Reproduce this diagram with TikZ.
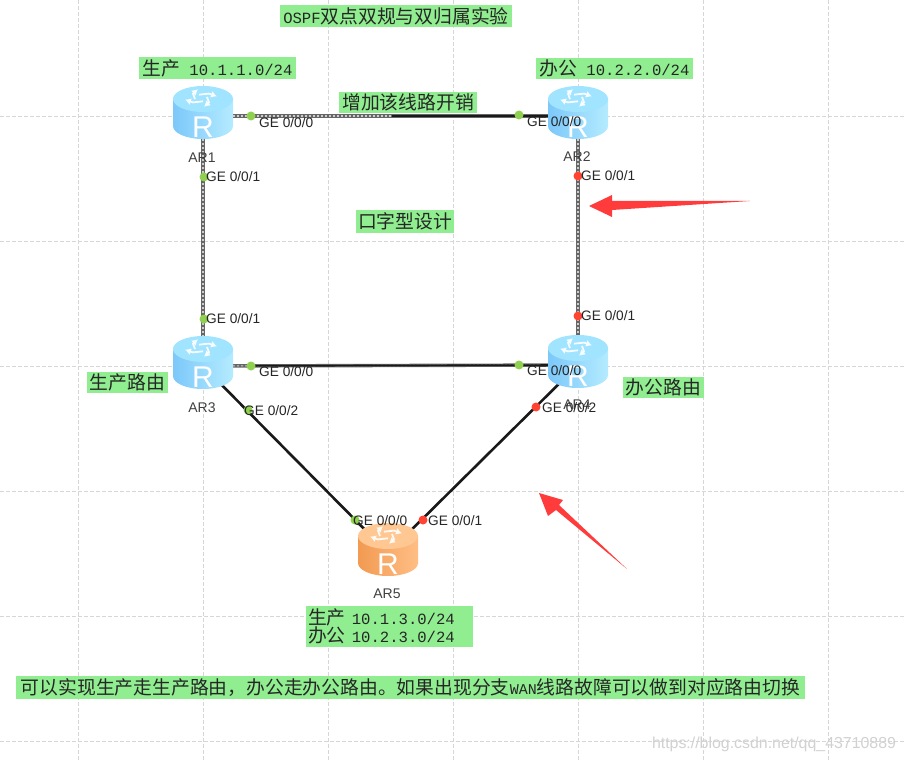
\documentclass[tikz,border=0pt]{standalone}
\usepackage{fontspec}
\setmainfont{Noto Sans CJK SC}
\newfontfamily\monotxt{Liberation Mono}
\newfontfamily\labeltxt{Liberation Sans}
\newcommand{\addr}[1]{{\monotxt\fontsize{15.6}{15.6}\selectfont #1}}
\usetikzlibrary{arrows.meta,backgrounds}
\definecolor{boxgreen}{HTML}{90EE90}
\definecolor{dotgreen}{HTML}{8FD14F}
\definecolor{dotred}{HTML}{FF4433}
\definecolor{arrowred}{HTML}{FF3B3B}
\definecolor{topblue}{HTML}{A0E4FF}
\definecolor{leftblue}{HTML}{7CC8FA}
\definecolor{rightblue}{HTML}{B4EBFF}
\definecolor{toporange}{HTML}{FFC792}
\definecolor{leftorange}{HTML}{F29A52}
\definecolor{rightorange}{HTML}{FFBE85}
\tikzset{
	gridline/.style={black!16,line width=.9pt,dash pattern=on 4pt off 2pt},
	greylink/.style={black!60,line width=3.4pt,postaction={draw=white!80!black,line width=1.1pt,dash pattern=on 2pt off 2pt}},
	blacklink/.style={black!90,line width=2.6pt},
	thinlink/.style={black!90,line width=1.7pt},
	routerbox/.style={minimum width=60pt,minimum height=46pt,inner sep=0pt},
	routerletter/.style={white,font=\labeltxt\fontsize{30}{30}\selectfont,inner sep=0pt},
	routername/.style={text=black!75,font=\labeltxt\fontsize{14}{14}\selectfont,inner sep=0pt},
	greenbox/.style={fill=boxgreen,inner sep=0pt,text=black!85,font=\fontsize{18.8}{16.5}\selectfont},
	port/.style={circle,fill=#1,minimum size=9pt,inner sep=0pt},
	portlabel/.style={anchor=west,text=black!85,font=\labeltxt\fontsize{13.7}{14}\selectfont,inner sep=0pt},
	redarrow/.style={fill=arrowred,draw=none},
}
\begin{document}
\begin{tikzpicture}[x=1pt,y=-1pt]
	\useasboundingbox (0,0) rectangle (905,762);
	% routers
	\foreach \n/\x/\y/\c in {ar1/203/116/blue,ar2/578/116/blue,ar3/203/366/blue,ar4/578/365/blue,ar5/388/553/orange}{
		\node[routerbox] (\n) at (\x,\y) {};
		\begin{scope}[shift={(\n.center)}]
			\shade[left color=left\c,right color=right\c] (0,10) ellipse [x radius=30,y radius=13];
			\shade[left color=left\c,right color=right\c] (-30,-17) rectangle (30,10);
			\fill[top\c] (0,-17) ellipse [x radius=30,y radius=13];
			\foreach \a in {0,90,180,270}
			\draw[white!90!top\c,line width=1.8pt,-{Latex[length=6pt,width=7pt]},shift={(-2,-18)},yscale=.55,rotate=\a] (-2,-6) -- (8,-8) -- (16,-3);
		\end{scope}
		\node[routerletter] (\n r) at ([yshift=-11pt]\n.center) {R};
	}
	\node[routername] (ar1name) at (202,158) {AR1};
	\node[routername] (ar2name) at (577,157) {AR2};
	\node[routername] (ar3name) at (202,408) {AR3};
	\node[routername] (ar4name) at (577,405) {AR4};
	\node[routername] (ar5name) at (387,594) {AR5};
	% grid and links under the routers
	\begin{scope}[on background layer]
		\foreach \x in {78,203,...,828}
		\draw[gridline] (\x,0) -- (\x,762);
		\foreach \y in {116,241,...,741}
		\draw[gridline] (0,\y) -- (905,\y);
		\draw[greylink] (ar1) -- (ar2);
		\draw[thinlink,shorten <=159pt,yshift=.6pt] (ar1) -- (ar2);
		\draw[greylink] (ar1) -- (ar3);
		\draw[greylink] (ar2) -- (ar4);
		\draw[greylink] (ar3) -- (ar4);
		\draw[thinlink,shorten <=22pt] (ar3) -- (ar4);
		\draw[blacklink] (ar3.center) -- (ar5.center);
		\draw[blacklink] (ar4.center) -- (ar5.center);
	\end{scope}
	% ports
	\foreach \i/\px/\py/\lx/\ly/\c/\t in {
		a/251/116/259/123/dotgreen/0,
		b/204/177/206/177/dotgreen/1,
		c/519/115/527/122/dotgreen/0,
		d/578/176/581/176/dotred/1,
		e/204/319/206/319/dotgreen/1,
		f/251/366/259/372/dotgreen/0,
		g/248/410/244/411/dotgreen/2,
		h/519/365/527/371/dotgreen/0,
		i/578/316/581/316/dotred/1,
		j/536/407/542/408/dotred/2,
		k/355/520/353/521/dotgreen/0,
		l/423/520/428/521/dotred/1}{
		\node[port=\c] (p\i) at (\px,\py) {};
		\node[portlabel] (t\i) at (\lx,\ly) {GE 0/0/\t};
	}
	% notes
	\node[greenbox,minimum width=232pt,minimum height=22pt] (title) at (396,16) {\addr{OSPF}双点双规与双归属实验};
	\node[greenbox,minimum width=157pt,minimum height=22pt] (net1) at (217.5,68) {生产\addr{\ 10.1.1.0/24}};
	\node[greenbox,minimum width=157pt,minimum height=21pt] (net2) at (614.5,68.5) {办公\addr{\ 10.2.2.0/24}};
	\node[greenbox,minimum width=138pt,minimum height=21pt] (cost) at (408,102.5) {增加该线路开销};
	\node[greenbox,minimum width=98pt,minimum height=23pt] (shape) at (405,221.5) {口字型设计};
	\node[greenbox,minimum width=81pt,minimum height=21pt] (prod) at (127.5,382.5) {生产路由};
	\node[greenbox,minimum width=81pt,minimum height=21pt] (office) at (663.5,387.5) {办公路由};
	\node[greenbox,text width=163pt,inner xsep=2pt,minimum height=41pt,align=left] (net3) at (389.5,626.5) {生产\addr{\ 10.1.3.0/24}\\办公\addr{\ 10.2.3.0/24}};
	\node[greenbox,minimum width=789pt,minimum height=23pt] (note) at (410.5,687.5) {可以实现生产走生产路由，办公走办公路由。如果出现分支{\monotxt\fontsize{15}{15}\selectfont WAN}线路故障可以做到对应路由切换};
	% red arrows
	\fill[redarrow] (589,206) -- (612,195) -- (612,201) -- (750,201) -- (612,210) -- (612,217) -- cycle;
	\fill[redarrow] (539,493) -- (563,500) -- (559,505) -- (627,569) -- (556,510) -- (548,516) -- cycle;
	% watermark
	\node[text=black!18,font=\labeltxt\fontsize{15.9}{16}\selectfont,inner sep=0pt] (mark) at (774,744) {https://blog.csdn.net/qq\_43710889};
\end{tikzpicture}
\end{document}
